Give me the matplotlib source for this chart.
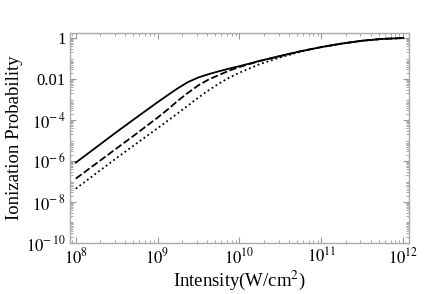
import numpy as np
import matplotlib
matplotlib.use("Agg")
import matplotlib.pyplot as plt
from matplotlib.ticker import FixedLocator, LogLocator, NullFormatter, FixedFormatter

# log10 intensity (W/cm^2)
log_intensity = [8.0, 8.25, 8.5, 8.75, 9.0, 9.125, 9.25, 9.375, 9.5, 9.625, 9.75, 9.875,
                 10.0, 10.25, 10.5, 10.75, 11.0, 11.25, 11.5, 11.75, 12.0]
# log10 ionization probability
log_p_solid = [-6.08, -5.33, -4.58, -3.85, -3.13, -2.78, -2.44, -2.14, -1.92, -1.76, -1.62, -1.49,
               -1.37, -1.11, -0.87, -0.64, -0.44, -0.27, -0.13, -0.04, 0.0]
log_p_dashed = [-6.86, -6.12, -5.38, -4.64, -3.88, -3.48, -3.05, -2.66, -2.30, -2.02, -1.80, -1.59,
                -1.41, -1.12, -0.88, -0.64, -0.44, -0.27, -0.13, -0.04, 0.0]
log_p_dotted = [-7.35, -6.60, -5.85, -5.12, -4.40, -4.03, -3.66, -3.28, -2.90, -2.54, -2.22, -1.93,
                -1.69, -1.27, -0.94, -0.66, -0.44, -0.27, -0.13, -0.04, 0.0]

x_ticks = [1e8, 1e9, 1e10, 1e11, 1e12]
x_tick_labels = [r'$10^{8}$', r'$10^{9}$', r'$10^{10}$', r'$10^{11}$', r'$10^{12}$']
y_ticks = [1e-10, 1e-8, 1e-6, 1e-4, 1e-2, 1]
y_tick_labels = [r'$10^{-\,10}$', r'$10^{-\,8}$', r'$10^{-\,6}$', r'$10^{-\,4}$', '0.01', '1']

plt.rcParams['font.family'] = ['Liberation Serif', 'DejaVu Serif']
plt.rcParams['mathtext.fontset'] = 'stix'

fig = plt.figure(figsize=(4.36, 2.94), dpi=100)
ax = fig.add_axes([0.1606, 0.1735, 0.938 - 0.1606, 0.888 - 0.1735])

I = 10 ** np.array(log_intensity)
ax.plot(I, 10 ** np.array(log_p_solid), color='black', lw=1.3, ls='-')
ax.plot(I, 10 ** np.array(log_p_dashed), color='black', lw=1.3, ls=(0, (4, 1.5)))
ax.plot(I, 10 ** np.array(log_p_dotted), color='black', lw=1.3, ls=(0, (1, 1.6)))

ax.set_xscale('log')
ax.set_yscale('log')
ax.set_xlim(10 ** 7.93, 10 ** 12.07)
ax.set_ylim(1e-10, 10 ** 0.25)

ax.xaxis.set_major_locator(FixedLocator(x_ticks))
ax.xaxis.set_major_formatter(FixedFormatter(x_tick_labels))
ax.xaxis.set_minor_locator(LogLocator(base=10, subs=np.arange(2, 10), numticks=50))
ax.xaxis.set_minor_formatter(NullFormatter())
ax.yaxis.set_major_locator(FixedLocator(y_ticks))
ax.yaxis.set_major_formatter(FixedFormatter(y_tick_labels))
ax.yaxis.set_minor_locator(LogLocator(base=10, subs=np.arange(1, 10), numticks=50))
ax.yaxis.set_minor_formatter(NullFormatter())

for s in ax.spines.values():
    s.set_color('#aaaaaa')
    s.set_linewidth(1.0)
ax.tick_params(which='both', direction='in', top=True, right=True, color='#999999',
               labelsize=12, pad=3)
ax.tick_params(which='major', length=4, width=0.8)
ax.tick_params(which='minor', length=2, width=0.6)

ax.set_xlabel('Intensity(W/cm$^{2}$)', fontsize=13.5, labelpad=1)
ax.set_ylabel('Ionization Probability', fontsize=13.5, labelpad=2)

fig.savefig('out.png', dpi=100)
